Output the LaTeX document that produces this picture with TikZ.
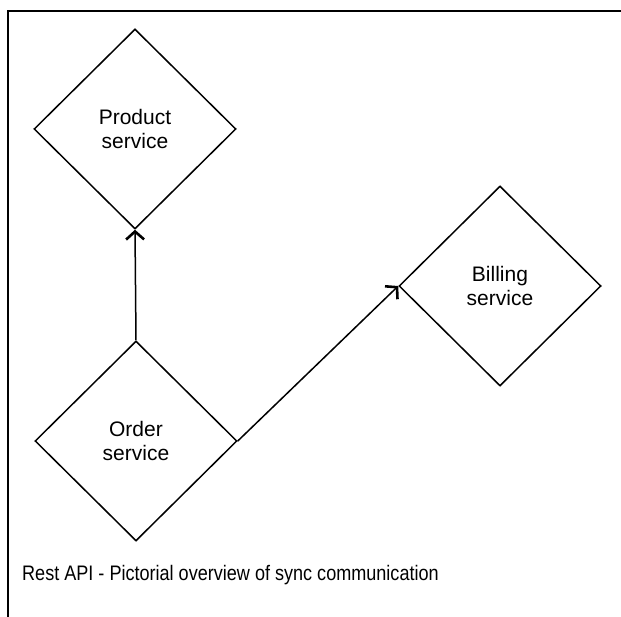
\documentclass[tikz,border=0pt]{standalone}
\usepackage{fontspec}
\setmainfont{Liberation Sans}
\newfontfamily\capfont{Liberation Sans}[FakeStretch=0.86]
\usetikzlibrary{shapes.geometric,arrows.meta}
\begin{document}
\begin{tikzpicture}[x=1pt,y=1pt,
  svc/.style={draw,line width=1.5pt,diamond,aspect=1,minimum width=202pt,minimum height=200pt,inner sep=0pt,align=center,font=\fontsize{21}{24.5}\selectfont},
  link/.style={line width=1.5pt,-{Straight Barb[length=8pt,width=18pt,line width=2.6pt]}}]
\useasboundingbox (0,0) rectangle (621,-617);
\draw[line width=2.6pt] (8,-617) -- (8,-11) -- (621,-11);
\node[svc] (prod) at (135,-129) {Product\\service};
\node[svc] (ord) at (136,-441) {Order\\service};
\node[svc] (bill) at (500,-286) {Billing\\service};
\draw[link] (ord.north) -- (prod.south);
\draw[link] (ord.east) -- (bill.west);
\node[anchor=base west,inner sep=0pt,font=\capfont\fontsize{21}{24}\selectfont] (cap) at (22,-580) {Rest API - Pictorial overview of sync communication};
\end{tikzpicture}
\end{document}
